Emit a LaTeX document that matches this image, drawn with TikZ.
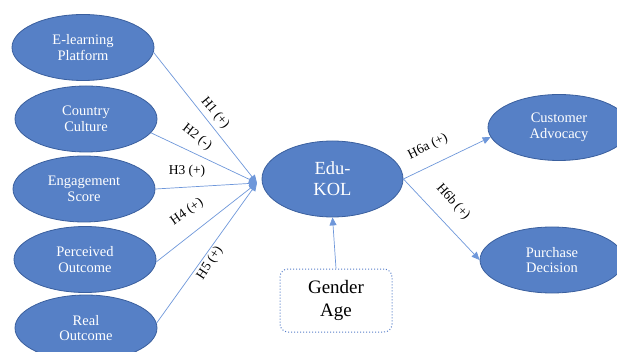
\documentclass[tikz,border=0pt]{standalone}
\usepackage{fontspec}
\setmainfont{Liberation Serif}
\usetikzlibrary{shapes.geometric,arrows.meta}

\begin{document}
\begin{tikzpicture}[x=1pt,y=-1pt,
  factor/.style={ellipse,draw=col_border,line width=0.8pt,fill=col_fill,text=white,
    inner sep=0pt,minimum width=142pt,minimum height=66pt,align=center,
    font=\fontsize{14.5}{15.5}\selectfont},
  path_ed/.style={draw=col_line,line width=0.7pt,-{Triangle[length=8pt,width=7pt]}},
  hyp/.style={font=\fontsize{13.5}{15}\selectfont,inner sep=1pt}]
%
\definecolor{col_fill}{RGB}{86,128,198}
\definecolor{col_border}{RGB}{58,95,158}
\definecolor{col_line}{RGB}{110,151,218}
\definecolor{col_box}{RGB}{84,124,200}
%
%
\useasboundingbox (0,0) rectangle (617,352);
\clip (0,0) rectangle (617,352);
%
%
\node[factor] (elearn) at (83,47.5) {E-learning\\Platform};
\node[factor] (culture) at (86,119) {Country\\Culture};
\node[factor] (engage) at (84,189) {Engagement\\Score};
\node[factor] (perceived) at (85,259.5) {Perceived\\Outcome};
\node[factor] (real) at (86,328) {Real\\Outcome};
%
\node[factor,minimum width=141pt,minimum height=76pt,
  font=\fontsize{18.5}{21}\selectfont] (edukol) at (332.5,179) {Edu-\\KOL};
%
\node[factor] (advocacy) at (559,127.5) {Customer\\Advocacy};
\node[factor,minimum width=144pt] (purchase) at (552,260) {Purchase\\Decision};
%
\node[draw=col_box,dotted,line width=1pt,rounded corners=8pt,
  minimum width=112pt,minimum height=63pt,align=center,
  font=\fontsize{19}{23}\selectfont] (gender) at (336,300.5) {Gender\\Age};
%
\coordinate (hub) at (257,183);
%
%
\draw[path_ed] (elearn.-4) -- (hub);
\draw[path_ed] (culture.-12) -- (hub);
\draw[path_ed] (engage.east) -- (hub);
\draw[path_ed] (perceived.-2) -- (hub);
\draw[path_ed] (real.4) -- (hub);
\draw[path_ed] (edukol.east) -- (advocacy.188);
\draw[path_ed] (edukol.east) -- (purchase.west);
\draw[path_ed] (gender.north) -- (edukol.south);
%
%
\node[hyp,rotate=-50] (h1) at (215,113) {H1 (+)};
\node[hyp,rotate=-38] (h2) at (197,137) {H2 (-)};
\node[hyp] (h3) at (187,171) {H3 (+)};
\node[hyp,rotate=35] (h4) at (187,212) {H4 (+)};
\node[hyp,rotate=57] (h5) at (210,263) {H5 (+)};
\node[hyp,rotate=26] (h6a) at (428,147) {H6a (+)};
\node[hyp,rotate=-48] (h6b) at (453,202) {H6b (+)};
%
%
\end{tikzpicture}
\end{document}
